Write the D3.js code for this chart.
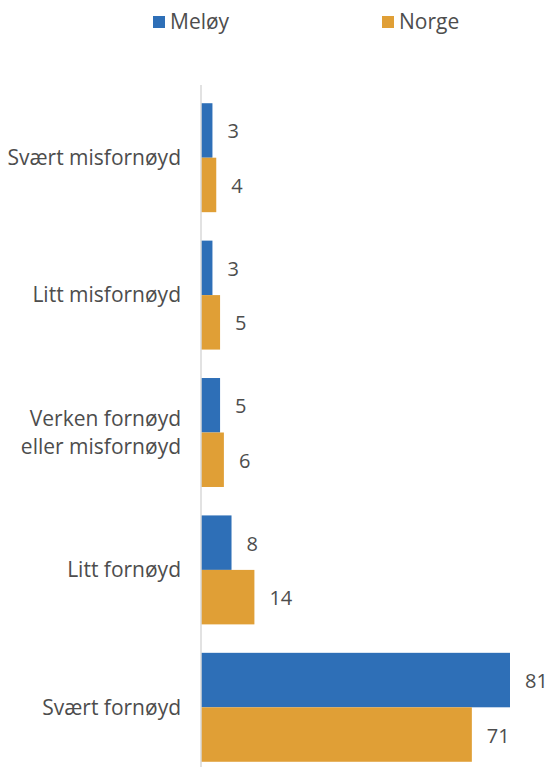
<!DOCTYPE html>
<html>
<head>
<meta charset="utf-8">
<script src="https://cdn.jsdelivr.net/npm/d3@7"></script>
<style>
  body { margin: 0; background: #fff; }
  svg text { font-family: "Open Sans", "Noto Sans", sans-serif; fill: #4d4d4d; }
</style>
</head>
<body>
<svg id="chart"></svg>
<script>
const categories = [
  ['Svært misfornøyd'],
  ['Litt misfornøyd'],
  ['Verken fornøyd', 'eller misfornøyd'],
  ['Litt fornøyd'],
  ['Svært fornøyd']
];
const seriesNames = ['Meløy', 'Norge'];
const meloy = [3, 3, 5, 8, 81];
const norge = [4, 5, 6, 14, 71];

const colors = ['#2e6fb7', '#e09f36'];
const width = 551, height = 767;
const axisX = 201;

const svg = d3.select('#chart')
  .attr('width', width)
  .attr('height', height);

const keys = categories.map(c => c.join(' '));

const yScale = d3.scaleBand()
  .domain(keys)
  .range([89, 776])
  .paddingInner(0.207)
  .paddingOuter(0.1035);

const ySub = d3.scaleBand()
  .domain(seriesNames)
  .range([0, yScale.bandwidth()]);

const xScale = d3.scaleLinear()
  .domain([0, 81])
  .range([axisX, 510]);

const rows = keys.map((k, i) => ({ key: k, lines: categories[i], values: [meloy[i], norge[i]] }));

// Bars
const groups = svg.selectAll('.grp')
  .data(rows)
  .enter()
  .append('g')
  .attr('class', 'grp')
  .attr('transform', d => `translate(0,${yScale(d.key)})`);

groups.selectAll('rect')
  .data(d => d.values.map((v, j) => ({ name: seriesNames[j], value: v, j })))
  .enter()
  .append('rect')
  .attr('x', xScale(0))
  .attr('y', d => ySub(d.name))
  .attr('width', d => xScale(d.value) - xScale(0))
  .attr('height', ySub.bandwidth())
  .attr('fill', d => colors[d.j]);

groups.selectAll('.val')
  .data(d => d.values.map((v, j) => ({ name: seriesNames[j], value: v })))
  .enter()
  .append('text')
  .attr('class', 'val')
  .attr('x', d => xScale(d.value) + 15)
  .attr('y', d => ySub(d.name) + ySub.bandwidth() / 2 + 1)
  .attr('dy', '0.35em')
  .style('font-size', '20px')
  .text(d => d.value);

// Category labels
const labels = svg.selectAll('.cat')
  .data(rows)
  .enter()
  .append('text')
  .attr('class', 'cat')
  .attr('text-anchor', 'end')
  .style('font-size', '21px')
  .attr('y', d => yScale(d.key) + yScale.bandwidth() / 2);

labels.selectAll('tspan')
  .data(d => d.lines.map((t, i) => ({ t, i, n: d.lines.length })))
  .enter()
  .append('tspan')
  .attr('x', 181)
  .attr('dy', d => d.i === 0 ? `${0.35 - (d.n - 1) * 0.667}em` : '1.333em')
  .text(d => d.t);

// Axis line
svg.append('line')
  .attr('x1', axisX).attr('x2', axisX)
  .attr('y1', 85).attr('y2', height)
  .attr('stroke', '#d9d9d9')
  .attr('stroke-width', 1.5);

// Legend
const legendX = [153, 382];
const legend = svg.selectAll('.leg')
  .data(seriesNames)
  .enter()
  .append('g')
  .attr('class', 'leg')
  .attr('transform', (d, i) => `translate(${legendX[i]},0)`);

legend.append('rect')
  .attr('x', 0).attr('y', 16)
  .attr('width', 12).attr('height', 12)
  .attr('fill', (d, i) => colors[i]);

legend.append('text')
  .attr('x', 17)
  .attr('y', 22)
  .attr('dy', '0.35em')
  .style('font-size', '21px')
  .text(d => d);
</script>
</body>
</html>
